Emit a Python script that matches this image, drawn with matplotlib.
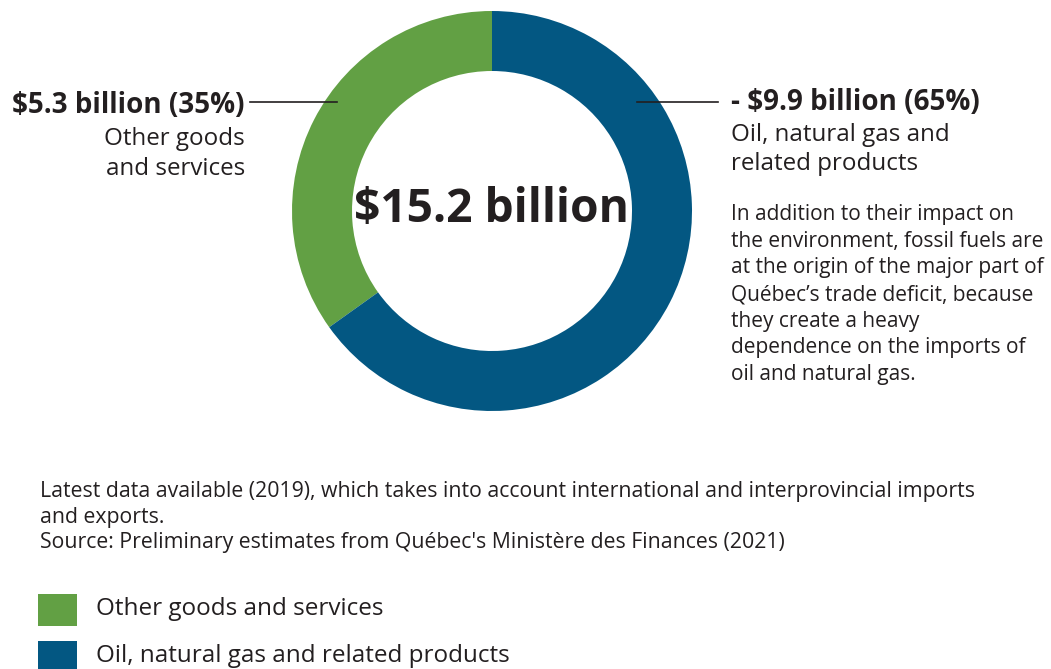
import matplotlib
matplotlib.use("Agg")
import matplotlib.pyplot as plt
from matplotlib.patches import Rectangle

W, H = 1051, 669
categories = ["Other goods and services", "Oil, natural gas and related products"]
values = [5.3, 9.9]
shares = [35, 65]
total_label = "$15.2 billion"
colors = ["#62A044", "#035782"]
TXT = "#231F20"
FONT = "Open Sans"

plt.rcParams['font.family'] = [FONT, 'DejaVu Sans']

fig = plt.figure(figsize=(W / 100, H / 100), dpi=100)
fig.patch.set_facecolor("white")

def fx(x):
    return x / W

def fy(y):
    return 1 - y / H

# donut axes: center (492, 211), radius 200 px
cx, cy, R = 492, 211, 200
ax = fig.add_axes([fx(cx - R), fy(cy + R), 2 * R / W, 2 * R / H])
ax.pie(values, colors=colors, startangle=90, counterclock=True,
       radius=1, wedgeprops=dict(width=0.3, edgecolor="none"))
ax.set_xlim(-1, 1)
ax.set_ylim(-1, 1)
ax.set_aspect("auto")
ax.axis("off")

# full-figure overlay for text and lines
ov = fig.add_axes([0, 0, 1, 1])
ov.set_xlim(0, W)
ov.set_ylim(H, 0)
ov.axis("off")
ov.patch.set_alpha(0)

ov.text(cx, 222, total_label, ha="center", va="baseline", fontsize=33.2,
        fontweight="bold", color=TXT)

# left label
ov.plot([250, 337], [102, 102], color=TXT, lw=1.2)
ov.text(245, 113, f"${values[0]} billion ({shares[0]}%)", ha="right", va="baseline",
        fontsize=20, fontweight="bold", color=TXT)
ov.text(245, 145, "Other goods", ha="right", va="baseline", fontsize=17.4, color=TXT)
ov.text(245, 175, "and services", ha="right", va="baseline", fontsize=17.4, color=TXT)

# right label
ov.plot([637, 718], [102, 102], color=TXT, lw=1.2)
ov.text(731, 110, f"- ${values[1]} billion ({shares[1]}%)", ha="left", va="baseline",
        fontsize=20, fontweight="bold", color=TXT)
ov.text(731, 141, "Oil, natural gas and", ha="left", va="baseline", fontsize=17.4, color=TXT)
ov.text(731, 170, "related products", ha="left", va="baseline", fontsize=17.4, color=TXT)

para = ["In addition to their impact on",
        "the environment, fossil fuels are",
        "at the origin of the major part of",
        "Québec\u2019s trade deficit, because",
        "they create a heavy",
        "dependence on the imports of",
        "oil and natural gas."]
for i, line in enumerate(para):
    ov.text(731, 220 + i * 26.7, line, ha="left", va="baseline", fontsize=15, color=TXT)

foot = ["Latest data available (2019), which takes into account international and interprovincial imports",
        "and exports.",
        "Source: Preliminary estimates from Québec's Ministère des Finances (2021)"]
for i, line in enumerate(foot):
    ov.text(40, 497 + i * 25.5, line, ha="left", va="baseline", fontsize=15.3, color=TXT)

# legend
leg_y = [594, 641]
for i, cat in enumerate(categories):
    ov.add_patch(Rectangle((38, leg_y[i]), 39, 32, facecolor=colors[i], edgecolor="none"))
    ov.text(96, leg_y[i] + 21, cat, ha="left", va="baseline", fontsize=17.5, color=TXT)

fig.savefig("out.png", dpi=100, facecolor="white")
